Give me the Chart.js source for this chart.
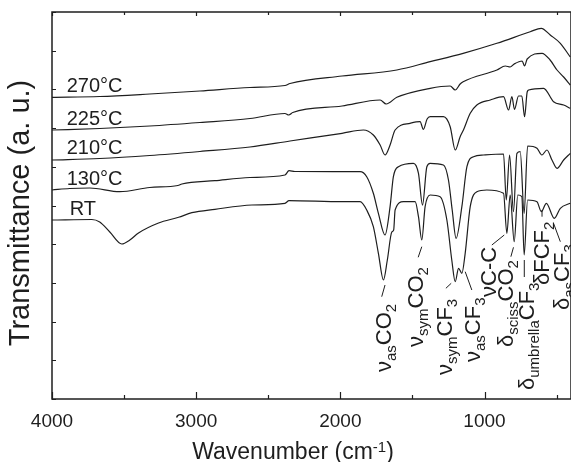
<!DOCTYPE html>
<html><head><meta charset="utf-8">
<script src="https://cdn.jsdelivr.net/npm/chart.js@4/dist/chart.umd.min.js"></script>
<style>html,body{margin:0;padding:0;background:#fff}</style>
</head><body>
<canvas id="c" width="571" height="462"></canvas>
<script>
// ---- data (wavenumber in cm-1, transmittance in arbitrary units) ----
const seriesNames = ["270°C","225°C","210°C","130°C","RT"];
const wn270 = [4000,3669,3322,2974,2627,2384,2349,1988,1608,1377,1148,914,683,606,544,474,405];
const t270  = [301.7,302.5,305,308,311.5,313.5,315.5,323,329,337.3,345.7,355.7,367.3,370.7,364,355.7,342];
const wn225 = [4000,3669,3322,2974,2627,2384,2358,2330,1988,1724,1682,1608,1377,1238,1203,1169,1148,914,856,822,794,739,722,704,601,545,497,451,405];
const t225  = [269,270.5,273,276.5,280.5,285.5,284,286.5,293,299,295,301.7,310.7,313,309,315,317.3,329,333,332,335,338,333,340,345.7,339,329,322,314];
const wn210 = [4000,3669,3322,2974,2627,2349,1988,1840,1771,1724,1690,1655,1620,1516,1447,1424,1398,1377,1285,1238,1203,1169,1146,1099,1053,960,868,833,810,792,764,741,722,704,694,590,521,451,405];
const t210  = [239,240.5,243.5,247.5,252,258,265.7,269,264,254,244,254,269,275.7,277.3,269.7,280,282.3,282.3,272.3,249,262.3,269,285.7,294,299,302.3,289,302.3,289.7,303,303,282.3,307,309,310.7,297.3,294,290.7];
const wn130 = [4000,3877,3738,3530,3322,3127,3099,2870,2627,2384,2356,2315,1988,1863,1817,1771,1736,1690,1655,1632,1597,1493,1458,1430,1400,1377,1285,1250,1224,1197,1157,1122,1076,1007,868,849,826,799,775,752,725,701,636,602,567,532,497,451,405];
const t130  = [209,210.5,211,207.3,211.5,213.5,215,218.3,221.5,224,228.3,227.5,227.3,227.3,222.3,205.7,185.7,164,192.3,222.3,232.3,235.7,225.7,194,232.3,235.7,234,219,189,160.7,192.3,232.3,242.3,244,245,199,244,187.3,245.7,247.3,185.7,253,250.7,244,249,239,230.7,239,245.7];
const wnRT  = [4000,3724,3669,3599,3516,3460,3400,3261,3122,3030,2870,2613,2384,2356,1988,1863,1817,1771,1736,1701,1674,1643,1630,1620,1562,1481,1458,1435,1412,1377,1308,1261,1227,1203,1180,1157,1134,1099,1053,984,868,845,822,794,769,741,725,701,636,606,571,516,474,405];
const tRT   = [179,179.5,177,167,155,159,166,176,181.7,186.3,189.7,194,195.7,198.3,197.3,197.3,189,172.3,145.7,119,139,167,169,189,197.3,197.3,182.3,159,192.3,204,202.3,179,139,117.3,130.7,125.7,145.7,192.3,207.3,209,205.7,165.7,204,157.3,204,202.3,144,199,197.3,187.3,195.7,180.7,190.7,195.7];

const xTickValues = [4000,3500,3000,2500,2000,1500,1000,500];
const xTickLabels = ["4000","3000","2000","1000"];
const yTickValues = [0,38.7,77.4,116.1,154.8,193.5,232.2,270.9,309.6,348.3,387];

// series name labels: [wavenumber, value]
const nameWn = [3898,3898,3898,3898,3877];
const nameT  = [307.3,274,245,214,184];

// band assignments: text parts, label anchor (wavenumber, value at bottom of text), leader line
const bandParts = [
  [["ν",""],["as","sub"],["CO",""],["2","sub"]],
  [["ν",""],["sym","sub"],["CO",""],["2","sub"]],
  [["ν",""],["sym","sub"],["CF",""],["3","sub"]],
  [["ν",""],["as","sub"],["CF",""],["3","sub"]],
  [["νC-C",""]],
  [["δ",""],["sciss","sub"],["CO",""],["2","sub"]],
  [["δ",""],["umbrella","sub"],["CF",""],["3","sub"]],
  [["δFCF",""],["2","sub"]],
  [["δ",""],["as","sub"],["CF",""],["3","sub"]]
];
const bandWn = [1703,1481,1280,1086,975,856,710,606,467];
const bandT  = [27,52,24,37,102,52,9,114,89];
const leadWn1 = [1713,1460,1268,1134,949,817,724,601,521];
const leadT1  = [102.3,141.7,110.7,127.3,154,142.3,139,189,175.7];
const leadWn2 = [1690,1435,1231,1088,863,799,724,601,474];
const leadT2  = [114,152.3,115.7,109,164,151.7,122,182.3,157.3];

const FONT = '"Liberation Sans", Arial, Helvetica, sans-serif';
const INK = '#1e1e1e';

function pts(w,t){ return w.map((v,i)=>({x:v,y:t[i]})); }
const allW = [wn270,wn225,wn210,wn130,wnRT];
const allT = [t270,t225,t210,t130,tRT];

const decor = {
  id:'decor',
  afterDraw(chart){
    const {ctx, chartArea:a, scales:{x,y}} = chart;
    ctx.save();
    ctx.strokeStyle = INK; ctx.fillStyle = INK;
    // frame
    ctx.lineWidth = 1.5;
    ctx.strokeRect(a.left, a.top, a.right-a.left, a.bottom-a.top);
    // ticks
    ctx.lineWidth = 1.2;
    ctx.beginPath();
    xTickValues.forEach(v=>{
      const px = Math.round(x.getPixelForValue(v))+0.5;
      const L = v%1000===0 ? 7 : 4;
      ctx.moveTo(px,a.bottom); ctx.lineTo(px,a.bottom-L);
      ctx.moveTo(px,a.top); ctx.lineTo(px,a.top+(v%1000===0?4:3));
    });
    yTickValues.forEach(v=>{
      const py = Math.round(y.getPixelForValue(v))+0.5;
      ctx.moveTo(a.left,py); ctx.lineTo(a.left+4,py);
    });
    ctx.stroke();
    // series names
    ctx.font = '20px '+FONT; ctx.textBaseline='alphabetic'; ctx.textAlign='left';
    seriesNames.forEach((n,i)=>ctx.fillText(n, x.getPixelForValue(nameWn[i]), y.getPixelForValue(nameT[i])));
    // band labels
    const size = 22;
    bandParts.forEach((parts,i)=>{
      const cx = x.getPixelForValue(bandWn[i]);
      const by = y.getPixelForValue(bandT[i]);
      ctx.save();
      ctx.translate(cx + size*0.36, by);
      ctx.rotate(-Math.PI/2);
      let pos = 0;
      parts.forEach(([t,k])=>{
        const fs = k ? Math.round(size*0.66) : size;
        ctx.font = fs+'px '+FONT;
        const dy = k==='sub' ? size*0.22 : 0;
        ctx.fillText(t, pos, dy);
        pos += ctx.measureText(t).width;
      });
      ctx.restore();
      ctx.lineWidth = 1;
      ctx.beginPath();
      ctx.moveTo(x.getPixelForValue(leadWn1[i]), y.getPixelForValue(leadT1[i]));
      ctx.lineTo(x.getPixelForValue(leadWn2[i]), y.getPixelForValue(leadT2[i]));
      ctx.stroke();
    });
    // axis titles
    ctx.font = '29px '+FONT; ctx.textAlign='center'; ctx.textBaseline='middle';
    ctx.save(); ctx.translate(21, 213); ctx.rotate(-Math.PI/2);
    ctx.fillText('Transmittance (a. u.)',0,0); ctx.restore();
    // x title with superscript
    ctx.textAlign='left'; ctx.textBaseline='alphabetic';
    const p1='Wavenumber (cm', p2='-1', p3=')';
    ctx.font='23px '+FONT; const w1=ctx.measureText(p1).width, w3=ctx.measureText(p3).width;
    ctx.font='15px '+FONT; const w2=ctx.measureText(p2).width;
    let sx = 293 - (w1+w2+w3)/2, base = 459;
    ctx.font='23px '+FONT; ctx.fillText(p1,sx,base);
    ctx.font='15px '+FONT; ctx.fillText(p2,sx+w1,base-7);
    ctx.font='23px '+FONT; ctx.fillText(p3,sx+w1+w2,base);
    ctx.restore();
  }
};

new Chart(document.getElementById('c'), {
  type:'line',
  data:{ datasets: seriesNames.map((n,i)=>({
    label:n, data:pts(allW[i],allT[i]), borderColor:INK, borderWidth:1.2,
    pointRadius:0, fill:false, cubicInterpolationMode:'monotone'
  }))},
  options:{
    responsive:false, devicePixelRatio:1, animation:false,
    layout:{padding:{top:12,right:0,left:0,bottom:0}},
    plugins:{legend:{display:false}, tooltip:{enabled:false}},
    scales:{
      x:{type:'linear', reverse:true, min:400, max:4000,
        afterFit:s=>{s.height=63;},
        afterBuildTicks:s=>{s.ticks = xTickValues.map(v=>({value:v}));},
        grid:{display:false}, border:{display:false},
        ticks:{autoSkip:false, maxRotation:0, padding:3, color:INK,
          font:{family:FONT,size:19},
          callback:v=> xTickLabels.includes(String(v)) ? String(v) : ''}},
      y:{type:'linear', min:0, max:387,
        afterFit:s=>{s.width=52;},
        grid:{display:false}, border:{display:false},
        ticks:{display:false}}
    }
  },
  plugins:[decor]
});
</script>
</body></html>
